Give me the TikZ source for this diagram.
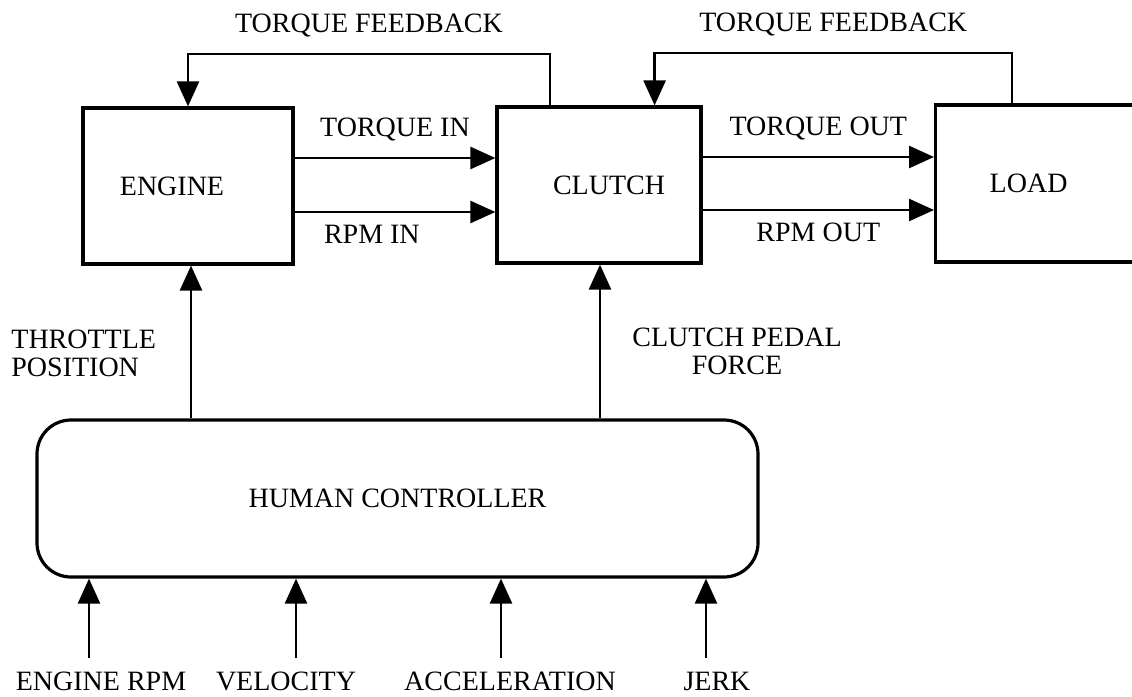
\documentclass[tikz,border=0pt]{standalone}
\usepackage{fontspec}
\setmainfont{Liberation Serif}
\usetikzlibrary{arrows.meta, positioning}
\tikzset{
  block/.style = {draw, line width=1.6pt, minimum height=78pt, inner sep=0pt},
  ctrl/.style  = {draw, line width=1.6pt, rounded corners=17pt,
                  minimum width=360.5pt, minimum height=78.5pt,
                  font=\fontsize{14}{14}\selectfont},
  arrow/.style = {-{Triangle[length=12.5pt, width=11pt]}, line width=1.3pt},
  lbl/.style   = {font=\fontsize{14}{14}\selectfont, inner sep=0pt},
}

\begin{document}
\begin{tikzpicture}[x=0.5pt, y=-0.5pt]
  \fill[white] (0,0) rectangle (1132,697);
  \useasboundingbox (0,0) rectangle (1132,697);
  % plant blocks
  \node[block, minimum width=105pt, label={[lbl, xshift=-8pt]center:ENGINE}]
    (engine) at (188,186) {};
  \node[block, minimum width=102pt, label={[lbl, xshift=5pt]center:CLUTCH}]
    (clutch) at (599,185) {};
  \node[block, minimum width=113pt, minimum height=78.5pt, anchor=west,
    label={[lbl, xshift=-10pt]center:LOAD}] (load) at (934,183.5) {};
  % human controller
  \node[ctrl] (hc) at (397.5,498.5) {HUMAN CONTROLLER};
  % engine -> clutch
  \draw[arrow] ([yshift=14pt]engine.east) -- ([yshift=14pt]engine.east -| clutch.west)
    node[lbl, midway, above=8pt] {TORQUE IN};
  \draw[arrow] ([yshift=-13pt]engine.east) -- ([yshift=-13pt]engine.east -| clutch.west)
    node[lbl, pos=0.14, below right=6pt and 0pt] {RPM IN};
  % clutch -> load
  \draw[arrow] ([yshift=14pt]clutch.east) -- ([yshift=14pt]clutch.east -| load.west)
    node[lbl, midway, above=8pt] {TORQUE OUT};
  \draw[arrow] ([yshift=-12.5pt]clutch.east) -- ([yshift=-12.5pt]clutch.east -| load.west)
    node[lbl, midway, below=6pt] {RPM OUT};
  % torque feedback loops
  \coordinate (fb1) at (550,54);
  \draw[arrow] (clutch.north -| fb1) -- (fb1) -| (engine.north)
    node[lbl, pos=0.25, above=8pt] {TORQUE FEEDBACK};
  \coordinate (fb2) at (1012,53);
  \draw[arrow] (load.north -| fb2) -- (fb2) -| ([xshift=-24pt]clutch.north east)
    node[lbl, pos=0.25, above=8pt] {TORQUE FEEDBACK};
  % controller outputs
  \coordinate (thr-in) at ([xshift=1.5pt]engine.south);
  \draw[arrow] (hc.north -| thr-in) -- (thr-in);
  \node[lbl, align=left, anchor=north west] (thr) at (11,330) {THROTTLE\\POSITION};
  \coordinate (ped-in) at ([xshift=0.5pt]clutch.south);
  \draw[arrow] (hc.north -| ped-in) -- (ped-in);
  \node[lbl, align=center, anchor=north] (ped) at (737,328) {CLUTCH PEDAL\\FORCE};
  % sensed inputs
  \foreach \ax/\tx/\txt [count=\i] in {89/101/ENGINE RPM, 296/286/VELOCITY,
                                      501/510/ACCELERATION, 706/717/JERK} {
    \coordinate (in\i) at (\ax,658);
    \draw[arrow] (in\i) -- (in\i |- hc.south);
    \node[lbl, anchor=base] (in\i-t) at (\tx,690) {\txt};
  }
\end{tikzpicture}
\end{document}
